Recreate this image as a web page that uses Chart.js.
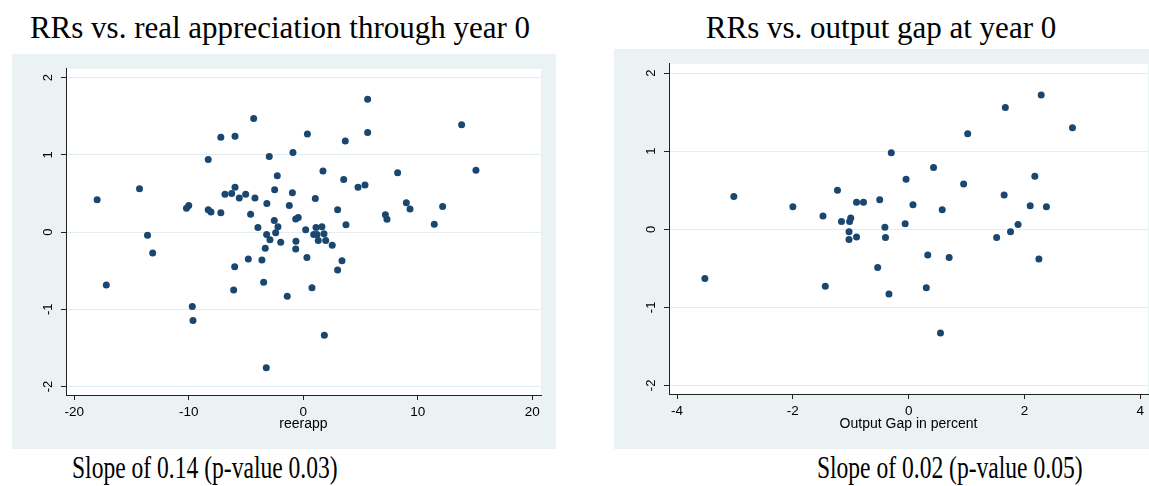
<!DOCTYPE html>
<html>
<head>
<meta charset="utf-8">
<script src="https://cdn.jsdelivr.net/npm/chart.js@4.4.1/dist/chart.umd.min.js"></script>
<style>
  body { margin: 0; background: #fff; width: 1149px; height: 486px; position: relative; overflow: hidden; }
  .ttl { position: absolute; font-family: "Liberation Serif", "Times New Roman", serif; font-size: 31px; line-height: 36px; color: #000; white-space: nowrap; }
  .sub { transform: scaleX(0.76); }
  .box { position: absolute; }
</style>
</head>
<body>
<div class="ttl" style="left:0; width:560px; top:10px; text-align:center;">RRs vs. real appreciation through year 0</div>
<div class="ttl" style="left:631px; width:500px; top:10px; text-align:center;">RRs vs. output gap at year 0</div>
<div class="box" style="left:12px; top:54px;"><canvas id="appChart" width="544" height="395"></canvas></div>
<div class="box" style="left:614px; top:49px;"><canvas id="gapChart" width="535" height="400"></canvas></div>
<div class="ttl sub" style="left:72px; top:450px; transform-origin:left center;">Slope of 0.14 (p-value 0.03)</div>
<div class="ttl sub" style="right:66px; top:450px; text-align:right; transform-origin:right center;">Slope of 0.02 (p-value 0.05)</div>
<script>
// left panel: real appreciation through year 0
const reerapp = [-18.0, -17.2, -14.3, -13.6, -13.15, -10.2, -10.0, -9.69, -9.63, -8.3,
  -8.3, -8.06, -7.2, -7.2, -6.84, -6.25, -6.08, -5.99, -5.96, -5.96,
  -5.59, -5.03, -4.8, -4.6, -4.33, -4.22, -3.96, -3.61, -3.46, -3.32,
  -3.23, -3.2, -3.18, -2.97, -2.91, -2.53, -2.5, -2.41, -2.27, -2.21,
  -1.97, -1.4, -1.22, -0.95, -0.9, -0.66, -0.66, -0.64, -0.44, 0.21,
  0.32, 0.36, 0.76, 0.91, 1.05, 1.11, 1.2, 1.31, 1.63, 1.72,
  1.81, 1.84, 1.96, 2.53, 3.0, 3.0, 3.38, 3.53, 3.67, 3.73,
  4.78, 5.39, 5.62, 5.62, 7.17, 7.31, 8.24, 9.0, 9.32, 11.44,
  12.17, 13.83, 15.08];
const rrApp = [0.42, -0.685, 0.56, -0.04, -0.27, 0.31, 0.345, -0.965, -1.145, 0.94,
  0.29, 0.26, 1.23, 0.25, 0.49, 0.50, -0.75, -0.45, 0.58, 1.24,
  0.44, 0.49, -0.35, 0.23, 1.47, 0.44, 0.06, -0.36, -0.65, -0.21,
  -1.757, -0.03, 0.37, 0.98, -0.10, 0.15, 0.55, -0.01, 0.73, 0.07,
  -0.13, -0.83, 0.345, 0.51, 1.03, 0.17, -0.22, -0.12, 0.19, 0.03,
  -0.33, 1.27, -0.72, -0.03, 0.435, 0.06, -0.03, -0.11, 0.07, 0.79,
  -0.02, -1.335, -0.11, -0.17, 0.29, -0.49, -0.37, 0.68, 1.18, 0.095,
  0.58, 0.61, 1.29, 1.72, 0.225, 0.165, 0.77, 0.38, 0.30, 0.10,
  0.33, 1.39, 0.80];

// right panel: output gap at year 0
const gap = [-3.52, -3.02, -2.0, -1.48, -1.44, -1.23, -1.16, -1.02, -1.0, -1.03,
  -1.03, -0.9, -0.9, -0.78, -0.535, -0.5, -0.41, -0.40, -0.34, -0.3,
  -0.06, -0.045, 0.075, 0.305, 0.33, 0.43, 0.55, 0.58, 0.70, 0.95,
  1.02, 1.52, 1.65, 1.67, 1.76, 1.89, 2.10, 2.18, 2.25, 2.29,
  2.38, 2.83];
const rrGap = [-0.63, 0.42, 0.29, 0.17, -0.73, 0.50, 0.10, 0.10, 0.145, -0.03,
  -0.13, -0.10, 0.345, 0.345, -0.49, 0.38, 0.025, -0.105, -0.83, 0.98,
  0.07, 0.64, 0.315, -0.75, -0.33, 0.79, -1.33, 0.25, -0.36, 0.58,
  1.225, -0.105, 0.44, 1.56, -0.03, 0.06, 0.30, 0.68, -0.38, 1.72,
  0.29, 1.30];

const yTicks = [-2, -1, 0, 1, 2];
const appTicks = [-20, -10, 0, 10, 20];
const gapTicks = [-4, -2, 0, 2, 4];

const navy = '#1a476f';
const panel = '#eaf2f3';

const panelBg = {
    id: 'panelBg',
    beforeDraw: (chart) => {
        const {ctx, chartArea, width, height} = chart;
        ctx.save();
        ctx.fillStyle = panel;
        ctx.fillRect(0, 0, width, height);
        ctx.fillStyle = '#fff';
        ctx.fillRect(chartArea.left, chartArea.top, chartArea.right - chartArea.left, chartArea.bottom - chartArea.top);
        ctx.restore();
    }
};

const scatterGraph = (id, xs, ys, xTicks, xMin, xMax, yMin, yMax, xTitle, pad, yWidth, xHeight) => {
    const ctx = document.getElementById(id);

    const data = {
        datasets: [{
            data: xs.map((x, i) => ({x: x, y: ys[i]})),
            backgroundColor: navy,
            borderColor: navy,
            borderWidth: 0,
            pointRadius: 3.5
        }]
    };

    new Chart(ctx, {
        type: 'scatter',
        data: data,
        plugins: [panelBg],
        options: {
            responsive: false,
            animation: false,
            events: [],
            layout: {padding: pad, autoPadding: false},
            plugins: {legend: {display: false}, tooltip: {enabled: false}},
            scales: {
                x: {
                    type: 'linear',
                    min: xMin,
                    max: xMax,
                    afterBuildTicks: (s) => { s.ticks = xTicks.map(v => ({value: v})); },
                    afterFit: (s) => { s.height = xHeight; },
                    grid: {drawOnChartArea: false, tickLength: 5, tickColor: '#222'},
                    border: {color: '#222', width: 1},
                    ticks: {maxRotation: 0, padding: 4, color: '#000', font: {family: 'Liberation Sans', size: 13.5}},
                    title: {display: true, text: xTitle, color: '#000', font: {family: 'Liberation Sans', size: 14}, padding: {top: 0, bottom: 16}}
                },
                y: {
                    min: yMin,
                    max: yMax,
                    afterBuildTicks: (s) => { s.ticks = yTicks.map(v => ({value: v})); },
                    afterFit: (s) => { s.width = yWidth; },
                    grid: {color: '#e3ecee', tickLength: 5, tickColor: '#222'},
                    border: {color: '#222', width: 1},
                    ticks: {minRotation: 90, maxRotation: 90, crossAlign: 'center', padding: 7, color: '#000', font: {family: 'Liberation Sans', size: 13}}
                }
            }
        }
    });
};

scatterGraph('appChart', reerapp, rrApp, appTicks, -20.72, 20.76, -2.11, 2.115, 'reerapp',
    {left: 0, top: 14, right: 15, bottom: 0}, 54, 54);
scatterGraph('gapChart', gap, rrGap, gapTicks, -4.14, 4.135, -2.11, 2.12, 'Output Gap in percent',
    {left: 0, top: 14, right: 1, bottom: 0}, 55, 55);
</script>
</body>
</html>
